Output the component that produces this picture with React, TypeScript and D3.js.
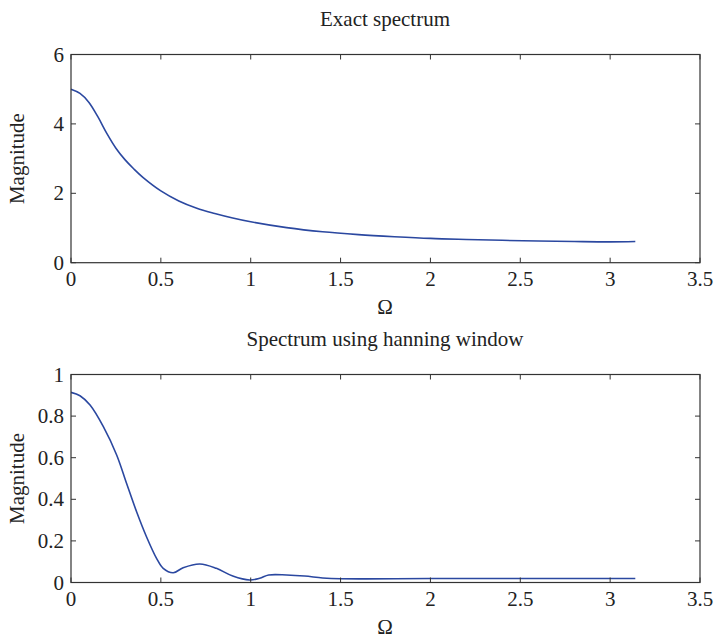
import React from "react";
import * as d3 from "d3";

const topOmega = [0, 0.05, 0.1, 0.15, 0.2, 0.25, 0.3, 0.35, 0.4, 0.5, 0.6, 0.7, 0.8, 0.9, 1.0, 1.2, 1.4, 1.6, 1.8, 2.0, 2.2, 2.4, 2.6, 2.8, 3.0, 3.14];
const topMag = [5.0, 4.88, 4.62, 4.2, 3.72, 3.3, 2.97, 2.7, 2.46, 2.07, 1.78, 1.57, 1.42, 1.29, 1.18, 1.01, 0.89, 0.81, 0.75, 0.7, 0.67, 0.645, 0.625, 0.61, 0.6, 0.61];

const botOmega = [0, 0.05, 0.106, 0.18, 0.254, 0.309, 0.365, 0.42, 0.476, 0.513, 0.569, 0.624, 0.717, 0.809, 0.9, 0.994, 1.05, 1.1, 1.2, 1.3, 1.4, 1.5, 2.0, 2.5, 3.0, 3.14];
const botMag = [0.914, 0.898, 0.853, 0.749, 0.613, 0.477, 0.34, 0.22, 0.116, 0.068, 0.047, 0.071, 0.089, 0.068, 0.031, 0.012, 0.02, 0.036, 0.036, 0.031, 0.022, 0.018, 0.019, 0.019, 0.019, 0.019];

const xTicks = [0, 0.5, 1, 1.5, 2, 2.5, 3, 3.5];
const topYTicks = [0, 2, 4, 6];
const botYTicks = [0, 0.2, 0.4, 0.6, 0.8, 1];

const FONT = "'Liberation Serif', serif";
const FS = 21;
const LINE = "#2b48a0";

function Panel({ top, bottom, yMax, yTicks, xs, ys, title }: any) {
  const left = 71, right = 700;
  const x = d3.scaleLinear().domain([0, 3.5]).range([left, right]);
  const y = d3.scaleLinear().domain([0, yMax]).range([bottom, top]);
  const pts = xs.map((v: number, i: number) => [v, ys[i]] as [number, number]);
  const line = d3.line<[number, number]>().x(d => x(d[0])).y(d => y(d[1])).curve(d3.curveCatmullRom.alpha(0.5));
  const tl = 5;
  const fmt = (v: number) => String(v);
  return (
    <g>
      <text x={385} y={top - 29} textAnchor="middle" fontFamily={FONT} fontSize={FS} fill="#222">{title}</text>
      <path d={line(pts) || ""} fill="none" stroke={LINE} strokeWidth={1.6} />
      {xTicks.map(t => (
        <g key={"x" + t}>
          <line x1={x(t)} x2={x(t)} y1={bottom} y2={bottom - tl} stroke="#333" />
          <line x1={x(t)} x2={x(t)} y1={top} y2={top + tl} stroke="#333" />
          <text x={x(t)} y={bottom + 23} textAnchor="middle" fontFamily={FONT} fontSize={FS} fill="#222">{fmt(t)}</text>
        </g>
      ))}
      {yTicks.map((t: number) => (
        <g key={"y" + t}>
          <line x1={left} x2={left + tl} y1={y(t)} y2={y(t)} stroke="#333" />
          <line x1={right} x2={right - tl} y1={y(t)} y2={y(t)} stroke="#333" />
          <text x={left - 7} y={y(t) + 7} textAnchor="end" fontFamily={FONT} fontSize={FS} fill="#222">{fmt(t)}</text>
        </g>
      ))}
      <rect x={left} y={top} width={right - left} height={bottom - top} fill="none" stroke="#333" strokeWidth={1.2} />
      <text x={385} y={bottom + 51} textAnchor="middle" fontFamily={FONT} fontSize={FS} fill="#222">Ω</text>
      <text transform={`translate(24,${(top + bottom) / 2}) rotate(-90)`} textAnchor="middle" fontFamily={FONT} fontSize={FS} fill="#222">Magnitude</text>
    </g>
  );
}

export default function App() {
  return (
    <svg width={715} height={643} style={{ position: "absolute", left: 0, top: 0, background: "#fff" }}>
      <rect width={715} height={643} fill="#fff" />
      <Panel top={54.5} bottom={262.7} yMax={6} yTicks={topYTicks} xs={topOmega} ys={topMag} title="Exact spectrum" />
      <Panel top={374.5} bottom={582.5} yMax={1} yTicks={botYTicks} xs={botOmega} ys={botMag} title="Spectrum using hanning window" />
    </svg>
  );
}
